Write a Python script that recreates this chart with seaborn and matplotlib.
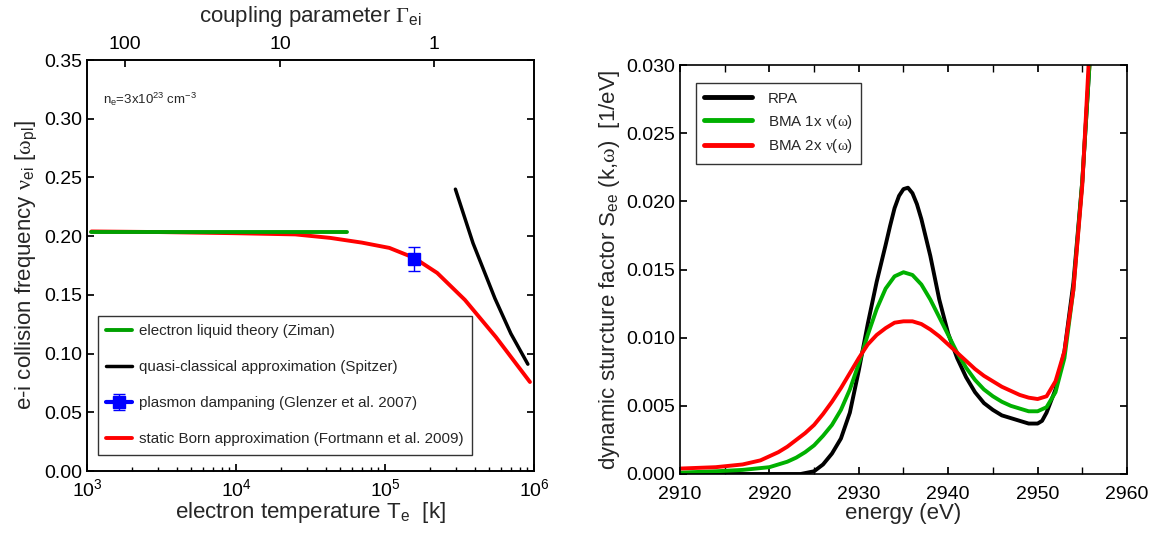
import matplotlib
matplotlib.use("Agg")
import matplotlib.pyplot as plt
import seaborn as sns
from matplotlib.ticker import FixedLocator, NullLocator, MultipleLocator, FormatStrFormatter

# ---- left panel data: collision frequency vs temperature ----
ziman_T = [1.07e3, 5.6e4]
ziman_nu = [0.2035, 0.2035]

spitzer_T = [2.97e5, 3.9e5, 5.47e5, 7.0e5, 9.1e5]
spitzer_nu = [0.240, 0.194, 0.147, 0.117, 0.091]

glenzer_T = [1.57e5]
glenzer_nu = [0.1806]
glenzer_err = [0.0102]

fortmann_T = [1.07e3, 3e3, 1e4, 2.5e4, 4.3e4, 7e4, 1.07e5, 1.57e5, 2.24e5, 3.44e5, 5.56e5, 9.4e5]
fortmann_nu = [0.204, 0.2035, 0.2025, 0.2015, 0.1985, 0.1945, 0.190, 0.1815, 0.1687, 0.1457, 0.114, 0.0758]

# top axis: coupling parameter ticks and their temperature positions
gamma_labels = ["100", "10", "1"]
gamma_ticks_T = [1.8e3, 1.97e4, 2.13e5]

# ---- right panel data: dynamic structure factor vs energy ----
rpa_E = [2910, 2918, 2923.5, 2925, 2926, 2927, 2928, 2929, 2930, 2931, 2932, 2933, 2933.5, 2934,
         2934.5, 2935, 2935.5, 2936, 2936.5, 2937, 2938, 2939, 2940, 2941, 2942, 2943, 2944,
         2945, 2946, 2947, 2948, 2949, 2950, 2950.5, 2951, 2952, 2953, 2954, 2955, 2955.8]
rpa_S = [0.0, 0.0, 0.0, 0.0002, 0.0007, 0.0015, 0.0026, 0.0045, 0.0076, 0.0110, 0.0141, 0.0168,
         0.0182, 0.0195, 0.0204, 0.0209, 0.0210, 0.0206, 0.0198, 0.0187, 0.0160, 0.0128, 0.0103,
         0.0085, 0.0071, 0.0060, 0.0052, 0.0047, 0.0043, 0.0041, 0.0039, 0.0037, 0.0037, 0.0039,
         0.0045, 0.0062, 0.0090, 0.0140, 0.0215, 0.030]

bma1_E = [2910, 2914, 2917, 2920, 2922, 2923, 2924, 2925, 2926, 2927, 2928, 2929, 2930, 2931,
          2932, 2933, 2934, 2935, 2936, 2937, 2938, 2939, 2940, 2941, 2942, 2943, 2944, 2945,
          2946, 2947, 2948, 2949, 2950, 2951, 2952, 2953, 2954, 2955, 2955.8]
bma1_S = [0.0001, 0.0002, 0.0003, 0.0005, 0.0009, 0.0012, 0.0016, 0.0021, 0.0028, 0.0036, 0.0047,
          0.0062, 0.0081, 0.0102, 0.0121, 0.0136, 0.0145, 0.0148, 0.0146, 0.0139, 0.0128, 0.0115,
          0.0102, 0.0089, 0.0078, 0.0069, 0.0062, 0.0057, 0.0053, 0.0050, 0.0048, 0.0046, 0.0046,
          0.0049, 0.0060, 0.0085, 0.0135, 0.0215, 0.030]

bma2_E = [2910, 2914, 2917, 2919, 2920, 2921, 2922, 2923, 2924, 2925, 2926, 2927, 2928, 2929,
          2930, 2931, 2932, 2933, 2934, 2935, 2936, 2937, 2938, 2939, 2940, 2941, 2942, 2943,
          2944, 2945, 2946, 2947, 2948, 2949, 2950, 2951, 2952, 2953, 2954, 2955, 2955.7]
bma2_S = [0.0004, 0.0005, 0.0007, 0.0010, 0.0013, 0.0016, 0.0020, 0.0025, 0.0030, 0.0036, 0.0044,
          0.0053, 0.0063, 0.0074, 0.0085, 0.0095, 0.0102, 0.0107, 0.0111, 0.0112, 0.0112, 0.0110,
          0.0106, 0.0101, 0.0095, 0.0089, 0.0083, 0.0077, 0.0072, 0.0068, 0.0064, 0.0061, 0.0058,
          0.0056, 0.0055, 0.0057, 0.0068, 0.0090, 0.0135, 0.0212, 0.030]

sns.set_theme(style="ticks")
plt.rcParams["font.family"] = ["Liberation Sans", "DejaVu Sans"]
plt.rcParams["mathtext.fontset"] = "custom"
plt.rcParams["mathtext.rm"] = "Liberation Sans"
plt.rcParams["mathtext.it"] = "Liberation Sans:italic"
plt.rcParams["mathtext.sf"] = "Liberation Serif"
plt.rcParams["axes.linewidth"] = 1.2
plt.rcParams["axes.edgecolor"] = "black"
plt.rcParams["xtick.color"] = "black"
plt.rcParams["ytick.color"] = "black"

fig = plt.figure(figsize=(11.59, 5.33), dpi=100)
ax = fig.add_axes([0.0751, 0.1163, 0.3856, 0.7711])
ax_r = fig.add_axes([0.5867, 0.1107, 0.3857, 0.7673])

# ---- left panel ----
sns.lineplot(x=fortmann_T, y=fortmann_nu, color="#ff0000", lw=2.8, ax=ax, sort=False)
h_red = ax.lines[-1]
sns.lineplot(x=ziman_T, y=ziman_nu, color="#00a000", lw=2.8, ax=ax, sort=False)
h_green = ax.lines[-1]
sns.lineplot(x=spitzer_T, y=spitzer_nu, color="black", lw=2.5, ax=ax, sort=False)
h_black = ax.lines[-1]
h_blue = ax.errorbar(glenzer_T, glenzer_nu, yerr=glenzer_err, fmt="-s", color="#0000ff",
                     lw=3, ms=8, capsize=4, elinewidth=1, capthick=1)

ax.set_xscale("log")
ax.set_xlim(1e3, 1e6)
ax.set_ylim(0, 0.35)
ax.yaxis.set_major_locator(MultipleLocator(0.05))
ax.yaxis.set_major_formatter(FormatStrFormatter("%.2f"))
ax.tick_params(which="both", direction="in", right=True, labelsize=14)
ax.tick_params(axis="x", which="both", pad=5)
ax.tick_params(which="major", length=5)
ax.tick_params(which="minor", length=3)
ax.set_xlabel(r"electron temperature T$_{\rm e}$  [k]", fontsize=16, labelpad=0)
ax.set_ylabel(r"e-i collision frequency $\mathsf{\nu}_{\rm ei}$ [$\mathsf{\omega}_{\rm pl}$]",
              fontsize=16, labelpad=3)
ax.text(0.036, 0.905, r"n$_{\rm e}$=3x10$^{23}$ cm$^{-3}$", transform=ax.transAxes, fontsize=9.5,
        va="center")

leg = ax.legend([h_green, h_black, h_blue, h_red],
                ["electron liquid theory (Ziman)", "quasi-classical approximation (Spitzer)",
                 "plasmon dampaning (Glenzer et al. 2007)",
                 "static Born approximation (Fortmann et al. 2009)"],
                loc="lower left", bbox_to_anchor=(0.024, 0.04), fontsize=10.9, frameon=True,
                fancybox=False, edgecolor="black", labelspacing=1.45, handlelength=1.7,
                handletextpad=0.5, borderpad=0.55, borderaxespad=0)
leg.get_frame().set_linewidth(1.0)

ax_top = ax.twiny()
ax_top.set_xscale("log")
ax_top.set_xlim(ax.get_xlim())
ax_top.xaxis.set_major_locator(FixedLocator(gamma_ticks_T))
ax_top.xaxis.set_minor_locator(NullLocator())
ax_top.set_xticklabels(gamma_labels)
ax_top.tick_params(direction="in", length=5, labelsize=14, pad=5)
ax_top.set_xlabel(r"coupling parameter $\mathsf{\Gamma}_{\rm ei}$", fontsize=16, labelpad=10)

# ---- right panel ----
sns.lineplot(x=rpa_E, y=rpa_S, color="black", lw=2.8, ax=ax_r, sort=False, label="RPA")
sns.lineplot(x=bma1_E, y=bma1_S, color="#00b000", lw=2.8, ax=ax_r, sort=False,
             label=r"BMA 1x $\mathsf{\nu}$($\mathsf{\omega}$)")
sns.lineplot(x=bma2_E, y=bma2_S, color="#ff0000", lw=2.8, ax=ax_r, sort=False,
             label=r"BMA 2x $\mathsf{\nu}$($\mathsf{\omega}$)")

ax_r.set_xlim(2910, 2960)
ax_r.set_ylim(0, 0.030)
ax_r.xaxis.set_major_locator(MultipleLocator(10))
ax_r.xaxis.set_minor_locator(MultipleLocator(5))
ax_r.yaxis.set_major_locator(MultipleLocator(0.005))
ax_r.yaxis.set_major_formatter(FormatStrFormatter("%.3f"))
ax_r.tick_params(which="both", direction="in", top=True, right=True, labelsize=14, length=5)
ax_r.tick_params(axis="x", which="both", pad=9)
ax_r.set_xlabel("energy (eV)", fontsize=16, labelpad=0)
ax_r.set_ylabel(r"dynamic sturcture factor S$_{\rm ee}$ (k,$\mathsf{\omega}$)  [1/eV]",
                fontsize=16, labelpad=3)
leg_r = ax_r.legend(loc="upper left", bbox_to_anchor=(0.035, 0.955), fontsize=10.9,
                    frameon=True, fancybox=False, edgecolor="black", handlelength=3.2,
                    handletextpad=1.0, labelspacing=0.45, borderpad=0.55, borderaxespad=0)
leg_r.get_frame().set_linewidth(1.0)
for line in leg_r.get_lines():
    line.set_linewidth(3.5)

fig.savefig("out.png", dpi=100)
